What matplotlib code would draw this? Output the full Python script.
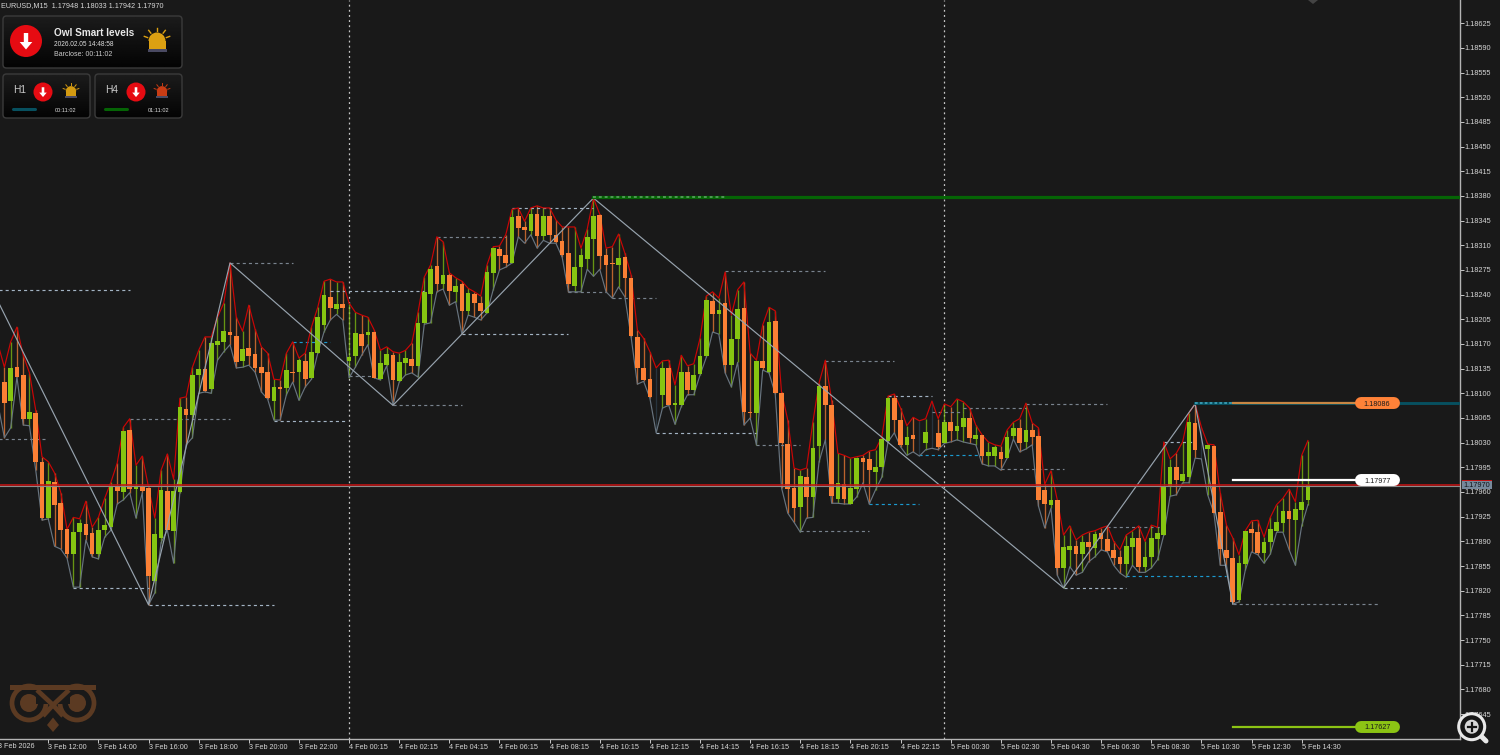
import numpy as np
import matplotlib
matplotlib.use("Agg")
import matplotlib.pyplot as plt
from matplotlib.patches import Circle, FancyBboxPatch, Polygon, Rectangle, Wedge
from matplotlib.ticker import FormatStrFormatter

plt.rcParams["font.family"] = ["Liberation Sans", "DejaVu Sans"]

# prices are in points above 1.17000, first candle sits just off the left edge
BASE = 1.17
POINT = 1e-5

opens = [1110, 1116, 1089, 1137, 1126, 1064, 1072, 1003, 923, 974, 944, 907, 872, 903, 915, 902, 872, 906, 910, 967, 960,
         1048, 964, 969, 966, 834, 895, 961, 905, 960, 1078, 1069, 1126, 1135, 1106, 1169, 1173, 1187, 1181, 1146, 1164,
         1156, 1137, 1130, 1089, 1109, 1108, 1130, 1130, 1146, 1122, 1157, 1197, 1237, 1220, 1227, 1146, 1153, 1184, 1183,
         1187, 1120, 1140, 1154, 1117, 1143, 1149, 1139, 1200, 1241, 1281, 1255, 1268, 1244, 1255, 1217, 1241, 1228, 1214,
         1271, 1305, 1296, 1285, 1352, 1336, 1330, 1354, 1323, 1352, 1325, 1316, 1299, 1252, 1279, 1291, 1319, 1353, 1296,
         1285, 1282, 1293, 1264, 1180, 1136, 1120, 1095, 1098, 1136, 1083, 1083, 1130, 1105, 1127, 1153, 1231, 1212, 1228,
         1140, 1177, 1221, 1073, 1072, 1146, 1130, 1203, 1100, 1028, 966, 939, 981, 953, 1025, 1110, 1083, 950, 971, 943,
         964, 1008, 1007, 988, 995, 1032, 1093, 1062, 1027, 1041, 1030, 1029, 1037, 1044, 1029, 1059, 1046, 1052, 1065,
         1035, 1041, 1011, 1011, 1017, 1008, 1039, 1051, 1031, 1048, 1039, 963, 941, 949, 852, 878, 883, 872, 889, 881, 902,
         893, 878, 868, 858, 882, 895, 854, 868, 893, 899, 967, 995, 976, 981, 1058, 1034, 1021, 1025, 932, 878, 866, 807,
         858, 907, 903, 873, 889, 905, 916, 933, 920, 934, 948]
highs = [1169, 1137, 1173, 1194, 1154, 1129, 1076, 1010, 1003, 987, 959, 907, 924, 922, 947, 910, 924, 951, 974, 1001, 1052,
         1064, 998, 1011, 967, 923, 991, 1014, 978, 1093, 1095, 1137, 1161, 1180, 1180, 1208, 1228, 1285, 1208, 1188, 1225,
         1191, 1166, 1157, 1120, 1119, 1157, 1173, 1150, 1157, 1194, 1222, 1259, 1262, 1258, 1258, 1228, 1215, 1211, 1208,
         1190, 1161, 1166, 1159, 1157, 1161, 1171, 1215, 1265, 1282, 1322, 1315, 1271, 1264, 1259, 1249, 1244, 1238, 1282,
         1308, 1309, 1325, 1361, 1363, 1344, 1363, 1366, 1363, 1363, 1346, 1336, 1336, 1336, 1306, 1333, 1377, 1354, 1306,
         1308, 1326, 1299, 1268, 1190, 1178, 1159, 1136, 1146, 1147, 1112, 1154, 1139, 1142, 1178, 1238, 1244, 1235, 1272,
         1211, 1247, 1258, 1157, 1147, 1197, 1222, 1217, 1102, 1062, 994, 991, 994, 1059, 1115, 1147, 1090, 1015, 1012,
         1008, 1010, 1012, 1018, 1020, 1038, 1096, 1099, 1079, 1054, 1066, 1061, 1064, 1089, 1064, 1085, 1081, 1092, 1088,
         1079, 1055, 1041, 1031, 1027, 1025, 1048, 1059, 1064, 1086, 1058, 1051, 971, 990, 949, 899, 912, 892, 899, 903, 905,
         909, 912, 890, 878, 899, 905, 912, 890, 913, 910, 1031, 1007, 1015, 1031, 1072, 1085, 1052, 1028, 1027, 959, 913,
         895, 871, 905, 919, 920, 896, 924, 942, 951, 964, 946, 1012, 1033]
lows = [1083, 1037, 1051, 1123, 1055, 1054, 991, 920, 922, 883, 879, 866, 825, 825, 892, 868, 865, 896, 906, 943, 949, 959,
        923, 959, 800, 817, 888, 906, 859, 959, 1027, 1037, 1100, 1102, 1100, 1147, 1159, 1169, 1136, 1137, 1140, 1130,
        1102, 1092, 1062, 1062, 1098, 1116, 1090, 1109, 1120, 1157, 1187, 1204, 1212, 1204, 1122, 1137, 1154, 1169, 1122,
        1119, 1139, 1083, 1116, 1126, 1129, 1123, 1198, 1200, 1244, 1248, 1225, 1230, 1184, 1211, 1208, 1204, 1214, 1247,
        1275, 1279, 1285, 1322, 1313, 1325, 1306, 1317, 1313, 1313, 1293, 1244, 1244, 1244, 1276, 1266, 1276, 1244, 1235,
        1251, 1237, 1180, 1113, 1117, 1093, 1044, 1079, 1083, 1056, 1081, 1098, 1098, 1126, 1151, 1187, 1184, 1129, 1109,
        1144, 1055, 1065, 1027, 1133, 1129, 1099, 966, 930, 917, 903, 923, 924, 1003, 1034, 944, 944, 943, 943, 953, 973,
        943, 963, 981, 1031, 1044, 1024, 1012, 1017, 1011, 1020, 1022, 1020, 1029, 1031, 1034, 1031, 1029, 1027, 1000, 997,
        997, 991, 1008, 1035, 1017, 1021, 1027, 940, 909, 937, 842, 824, 854, 842, 846, 861, 868, 878, 875, 856, 845, 839,
        856, 846, 846, 852, 864, 899, 954, 956, 973, 973, 1008, 1007, 956, 930, 856, 856, 801, 804, 849, 875, 871, 859, 872,
        903, 903, 878, 856, 912, 942]
closes = [1116, 1086, 1136, 1123, 1064, 1073, 1003, 923, 976, 942, 906, 872, 903, 916, 899, 872, 906, 913, 967, 961, 1046,
          964, 969, 961, 841, 900, 963, 906, 961, 1081, 1069, 1126, 1135, 1103, 1171, 1174, 1188, 1183, 1144, 1163, 1153,
          1136, 1129, 1093, 1109, 1106, 1133, 1129, 1147, 1120, 1159, 1208, 1239, 1221, 1227, 1221, 1151, 1186, 1167, 1187,
          1122, 1143, 1156, 1119, 1144, 1150, 1139, 1200, 1244, 1276, 1255, 1268, 1245, 1252, 1217, 1242, 1228, 1217, 1272,
          1306, 1295, 1285, 1350, 1335, 1332, 1354, 1323, 1352, 1325, 1315, 1296, 1255, 1279, 1296, 1322, 1352, 1295, 1282,
          1283, 1292, 1264, 1181, 1136, 1119, 1095, 1094, 1136, 1083, 1086, 1130, 1105, 1126, 1153, 1232, 1212, 1218, 1140,
          1177, 1220, 1073, 1072, 1146, 1136, 1201, 1100, 1029, 964, 937, 983, 953, 1022, 1110, 1083, 954, 973, 950, 966,
          1008, 1003, 991, 995, 1035, 1093, 1062, 1027, 1038, 1035, 1029, 1045, 1036, 1024, 1059, 1046, 1054, 1065, 1037,
          1041, 1011, 1017, 1024, 1007, 1038, 1051, 1029, 1048, 1038, 949, 943, 949, 852, 882, 883, 872, 889, 882, 900, 893,
          876, 866, 858, 883, 895, 854, 868, 895, 902, 969, 995, 977, 985, 1059, 1020, 1033, 1027, 930, 879, 866, 804, 859,
          905, 902, 873, 889, 907, 917, 933, 922, 936, 946, 970]

# candles that show only a dark wick
dim_candles = [104, 146, 148, 191]

zigzag_idx = [-1, 23, 36, 62, 94, 169, 190, 196]
zigzag_pts = [1230, 800, 1285, 1083, 1377, 824, 1085, 801]

# dashed swing levels: start candle, end candle, price, kind
level_start = [-1, -1, 11, 23, 20, 36, 46, 43, 52, 55, 62, 69, 73, 81, 90, 97, 104, 115, 120, 127, 131, 138, 141, 153, 163,
               148, 146, 159, 169, 176, 179, 185, 196]
level_end = [20, 6.5, 23, 43, 36, 46, 52, 54.5, 67, 59, 73, 80, 90, 94, 96, 104, 120, 131, 127, 138, 142, 146, 148, 163, 176,
             153, 157, 169, 179, 185, 195, 190, 219.4]
level_pts = [1247, 1035, 824, 800, 1064, 1285, 1173, 1061, 1245, 1125, 1083, 1322, 1184, 1363, 1244, 1235, 1044, 1274, 1027,
             904, 1146, 943, 1096, 1079, 1085, 1073, 1012, 993, 824, 910, 841, 1031, 801]
level_kind = ["light", "gray", "light", "light", "gray", "gray", "cyan", "light", "light", "gray", "gray", "gray", "light",
              "light", "gray", "gray", "light", "gray", "gray", "gray", "gray", "cyan", "light", "gray", "gray", "gray",
              "cyan", "gray", "light", "gray", "cyan", "light", "gray"]
level_colors = {"gray": "#79838e", "light": "#a3b4c4", "cyan": "#1b9ad0"}

time_labels = ["3 Feb 2026", "3 Feb 12:00", "3 Feb 14:00", "3 Feb 16:00", "3 Feb 18:00", "3 Feb 20:00", "3 Feb 22:00",
               "4 Feb 00:15", "4 Feb 02:15", "4 Feb 04:15", "4 Feb 06:15", "4 Feb 08:15", "4 Feb 10:15", "4 Feb 12:15",
               "4 Feb 14:15", "4 Feb 16:15", "4 Feb 18:15", "4 Feb 20:15", "4 Feb 22:15", "5 Feb 00:30", "5 Feb 02:30",
               "5 Feb 04:30", "5 Feb 06:30", "5 Feb 08:30", "5 Feb 10:30", "5 Feb 12:30", "5 Feb 14:30"]

bid_pts = 970
swing_high_pts = 1378
target_pts = [1086, 977, 627]
target_labels = ["1.18086", "1.17977", "1.17627"]
target_colors = ["#ff8238", "#ffffff", "#8cc414"]
target_line_colors = ["#c98745", "#ffffff", "#8cc414"]

BG = "#191919"
UP = "#86c511"
DOWN = "#fb8035"
TEXT = "#d6d6d6"

W, H = 1500, 755
AX_W, AX_H = 1459.5, 738.5
PX_PER_CANDLE = 6.267


def to_price(pts):
    return BASE + np.asarray(pts, dtype=float) * POINT


def draw_candles(ax):
    idx = np.arange(len(opens)) - 1
    o, h, l, c = [to_price(v) for v in (opens, highs, lows, closes)]
    for i, po, ph, pl, pc in zip(idx, o, h, l, c):
        dim = i in dim_candles
        col = UP if pc > po else DOWN
        wick = "#28343e" if dim else col
        ax.vlines(i, pl, ph, color=wick, lw=0.95, alpha=1 if dim else 0.72, zorder=2)
        if not dim:
            bottom = min(po, pc)
            height = max(abs(pc - po), 1.2 * POINT)
            ax.bar(i, height, bottom=bottom, width=0.74, color=col, zorder=4)
    # the high and low envelopes run behind the bodies
    ax.plot(idx, h, color="#cc0505", lw=0.85, zorder=3)
    ax.plot(idx, l, color="#68747f", lw=0.85, zorder=3)
    ax.plot(zigzag_idx, to_price(zigzag_pts), color="#97a3ae", lw=0.85, zorder=5)


def draw_levels(ax):
    for x0, x1, p, kind in zip(level_start, level_end, level_pts, level_kind):
        ax.plot([x0, x1], to_price([p, p]), color=level_colors[kind], lw=0.85,
                dashes=(2.6, 2.6), zorder=3)


def draw_right_side(ax):
    left, right = ax.get_xlim()
    # long horizontal lines
    ax.plot([94, right], to_price([swing_high_pts] * 2), color="#056405", lw=2.3, zorder=5)
    ax.plot([94, 115], to_price([swing_high_pts] * 2), color="#4f9a55", lw=1.4, dashes=(1.5, 1.5), zorder=6)
    ax.plot([190, right], to_price([target_pts[0]] * 2), color="#07505f", lw=2.1, zorder=5)
    ax.plot([190, 196], to_price([target_pts[0]] * 2), color="#3c9db5", lw=1.3, dashes=(1.5, 1.2), zorder=6)
    ax.plot([left, right], to_price([bid_pts - 1] * 2), color="#8c8c8c", lw=0.8, zorder=6)
    ax.plot([left, right], to_price([bid_pts] * 2), color="#c11414", lw=1.15, zorder=7)

    pill_x0 = 216.4
    pill_x1 = 221.7
    for p, lab, col, line_col in zip(target_pts, target_labels, target_colors, target_line_colors):
        ax.plot([196, pill_x0], to_price([p, p]), color=line_col, lw=1.6, zorder=8)
        ax.plot([pill_x0, pill_x1], to_price([p, p]), color=col, lw=8.6, solid_capstyle="round", zorder=9)
        ax.text((pill_x0 + pill_x1) / 2, to_price(p), lab, color="#1a1a1a", fontsize=5.2,
                ha="center", va="center_baseline", zorder=10)

    # current price tag on the scale
    tr = ax.get_yaxis_transform()
    ax.add_patch(Rectangle((1.0015, to_price(bid_pts - 6)), 0.0206, 12 * POINT, transform=tr,
                           facecolor="#77899b", clip_on=False, zorder=11))
    ax.add_patch(Rectangle((1.0015, to_price(bid_pts + 6)), 0.0206, 1.6 * POINT, transform=tr,
                           facecolor="#c11414", clip_on=False, zorder=11))
    ax.text(1.003, to_price(bid_pts), "1.17970", transform=tr, color="#10151a", fontsize=5.3,
            ha="left", va="center_baseline", clip_on=False, zorder=12)


def box(ov, x, y, w, h):
    patch = FancyBboxPatch((x, y), w, h, boxstyle="round,pad=0,rounding_size=3.5", facecolor="none",
                           edgecolor="#3b3b3b", lw=1.0, zorder=21)
    ov.add_patch(patch)
    grad = np.linspace(0.11, 0.015, 64).reshape(-1, 1)
    im = ov.imshow(grad, extent=(x, x + w, y + h, y), cmap="gray", vmin=0, vmax=1, aspect="auto", zorder=20)
    im.set_clip_path(patch)


def alert_dot(ov, cx, cy, r):
    ov.add_patch(Circle((cx, cy), r, facecolor="#e60b12", edgecolor="none", zorder=22))
    s = r / 16
    pts = [(-2.2, -8), (2.2, -8), (2.2, 1), (6.3, 1), (0, 8.5), (-6.3, 1), (-2.2, 1)]
    ov.add_patch(Polygon([(cx + a * s, cy + b * s) for a, b in pts], facecolor="white", zorder=23))


def beacon(ov, cx, cy, s, col, base_col):
    ov.add_patch(Rectangle((cx - 9.5 * s, cy + 6.5 * s), 19 * s, 3.5 * s, facecolor=base_col, zorder=22))
    # y axis is inverted here, so the half disc is flipped by the angles
    ov.add_patch(Wedge((cx, cy - 1 * s), 8.5 * s, 180, 360, facecolor=col, zorder=22))
    ov.add_patch(Rectangle((cx - 8.5 * s, cy - 1 * s), 17 * s, 7.5 * s, facecolor=col, zorder=22))
    for a in (-70, -38, 0, 38, 70):
        ra = np.radians(a)
        x0, y0 = cx + 10 * s * np.sin(ra), cy - 1 * s - 10 * s * np.cos(ra)
        x1, y1 = cx + 13.5 * s * np.sin(ra), cy - 1 * s - 13.5 * s * np.cos(ra)
        ov.plot([x0, x1], [y0, y1], color=col, lw=1.0 * max(s, 0.7), zorder=22)


def draw_panels(ov):
    ov.text(1, 5.5, "EURUSD,M15  1.17948 1.18033 1.17942 1.17970", color=TEXT, fontsize=5.2, va="center", ha="left")
    box(ov, 3, 16, 179, 52)
    box(ov, 3, 74, 87, 44)
    box(ov, 95, 74, 87, 44)
    alert_dot(ov, 26, 41, 16)
    ov.text(54, 33, "Owl Smart levels", color="#e8e8e8", fontsize=7.2, fontweight="bold", va="center", zorder=23)
    ov.text(54, 44, "2026.02.05 14:48:58", color="#dddddd", fontsize=4.7, va="center", zorder=23)
    ov.text(54, 54, "Barclose: 00:11:02", color="#cccccc", fontsize=5.0, va="center", zorder=23)
    beacon(ov, 157, 42, 1.0, "#dca012", "#4a4a62")

    ov.text(13, 90, "H1", color="#c8c8c8", fontsize=7.4, va="center", zorder=23)
    alert_dot(ov, 43, 92, 9.5)
    beacon(ov, 71, 92, 0.62, "#d39a12", "#4a4a62")
    ov.plot([13, 35], [109, 109], color="#07505f", lw=2.2, solid_capstyle="round", zorder=23)
    ov.text(66, 110, "00:11:02", color="#dddddd", fontsize=4.1, va="center", ha="center", zorder=23)

    ov.text(105, 90, "H4", color="#c8c8c8", fontsize=7.4, va="center", zorder=23)
    alert_dot(ov, 136, 92, 9.5)
    beacon(ov, 162, 92, 0.62, "#c83c14", "#4a4a62")
    ov.plot([105, 127], [109, 109], color="#056405", lw=2.2, solid_capstyle="round", zorder=23)
    ov.text(159, 110, "01:11:02", color="#dddddd", fontsize=4.1, va="center", ha="center", zorder=23)


def draw_owl(ov):
    col = "#5b3a22"
    ov.add_patch(Polygon([(10, 685), (96, 685), (96, 690), (10, 690)], facecolor=col, zorder=15))
    for cx in (29, 77):
        ov.add_patch(Circle((cx, 703), 17, facecolor="none", edgecolor=col, lw=3.4, zorder=15))
        ov.add_patch(Circle((cx, 703), 9, facecolor=col, zorder=15))
    ov.add_patch(Rectangle((36, 690), 34, 14, facecolor=BG, zorder=15))
    ov.plot([37, 53, 69], [690, 705, 690], color=col, lw=3.4, solid_capstyle="butt", zorder=16)
    ov.plot([43, 53, 63], [716, 705, 716], color=col, lw=3.4, solid_capstyle="butt", zorder=16)
    ov.add_patch(Polygon([(53, 717.5), (59, 725), (53, 732), (47, 725)], facecolor=col, zorder=15))
    ov.add_patch(Polygon([(1308, 0), (1318, 0), (1313, 4)], facecolor="#444444", zorder=15))


def draw_magnifier(ov):
    ov.plot([1480, 1486], [735, 741], color="#e8e8e8", lw=3.6, solid_capstyle="round", zorder=30)
    ov.add_patch(Circle((1471.7, 726.7), 13, facecolor="#151515", edgecolor="#e8e8e8", lw=2.2, zorder=31))
    ov.add_patch(Circle((1471.7, 726.7), 7, facecolor="#d8d8d8", zorder=32))
    ov.plot([1467.5, 1476], [726.7, 726.7], color="#151515", lw=1.6, zorder=33)
    ov.plot([1471.7, 1471.7], [722.5, 731], color="#151515", lw=1.6, zorder=33)


def main():
    fig = plt.figure(figsize=(W / 100, H / 100), dpi=100, facecolor=BG)
    ax = fig.add_axes([0, 1 - AX_H / H, AX_W / W, AX_H / H], facecolor=BG)

    ax.yaxis.tick_right()
    ax.set_yticks(to_price(645 + 35 * np.arange(29)))
    ax.yaxis.set_major_formatter(FormatStrFormatter("%.5f"))
    ax.set_xticks(np.arange(1, len(time_labels)) * 8 - 1)
    ax.set_xticklabels(time_labels[1:], ha="left")

    # ticks can stretch the view, so the limits come after them
    x_left = -4.4 / PX_PER_CANDLE
    ax.set_xlim(x_left, x_left + AX_W / PX_PER_CANDLE)
    ax.set_ylim(to_price(1658 - 1.4187 * AX_H), to_price(1658))

    draw_levels(ax)
    draw_candles(ax)
    draw_right_side(ax)

    # day separators
    for sep in (55, 150):
        ax.axvline(sep, color="#c6c6c6", lw=0.9, dashes=(1.5, 2.6), zorder=1)

    # first time label starts off the edge, outside the tick range
    ax.text(-1, -0.0105, time_labels[0], transform=ax.get_xaxis_transform(), color=TEXT, fontsize=5.2,
            ha="left", va="center", clip_on=False)

    ax.tick_params(axis="y", colors="#c8c8c8", labelcolor=TEXT, labelsize=5.3, length=3, width=0.7, pad=0.5)
    ax.tick_params(axis="x", colors="#c8c8c8", labelcolor=TEXT, labelsize=5.2, length=3, width=0.7, pad=1)
    for name in ("top", "left"):
        ax.spines[name].set_visible(False)
    for name in ("right", "bottom"):
        ax.spines[name].set_color("#b4b4b4")
        ax.spines[name].set_linewidth(1.0)

    # pixel overlay for the panels and logo
    ov = fig.add_axes([0, 0, 1, 1], facecolor="none")
    ov.set_axis_off()
    draw_panels(ov)
    draw_owl(ov)
    draw_magnifier(ov)
    ov.set_xlim(0, W)
    ov.set_ylim(H, 0)

    fig.savefig("out.png", dpi=100, facecolor=BG)


if __name__ == "__main__":
    main()
